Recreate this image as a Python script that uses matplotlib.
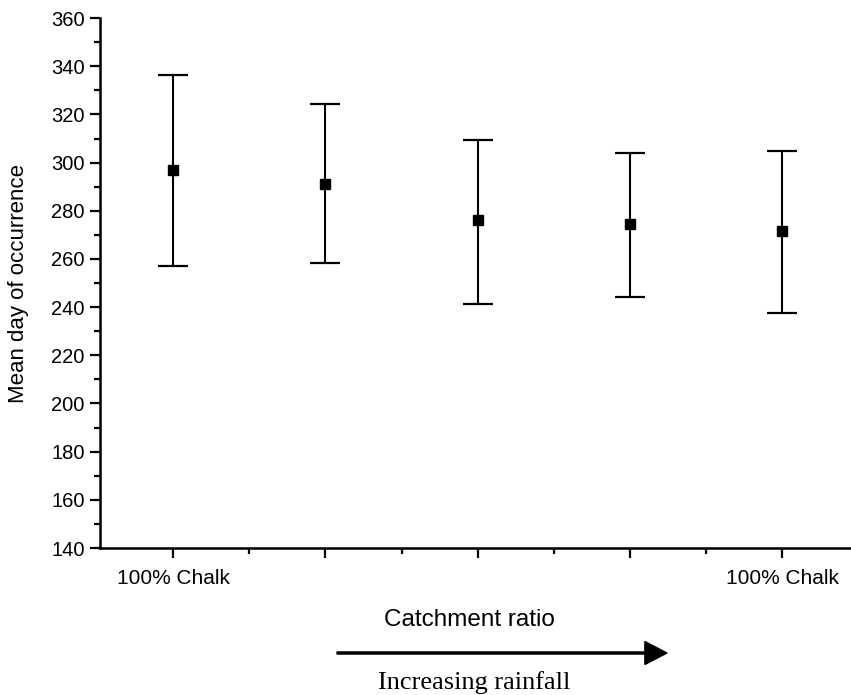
import matplotlib.pyplot as plt
import numpy as np

# mean day of occurrence for each catchment group, with range ends
positions = [1, 2, 3, 4, 5]
means = [297, 291, 276, 274.5, 271.5]
upper = [336.5, 324.5, 309.5, 304, 305]
lower = [257, 258.5, 241.5, 244, 237.5]
tick_labels = ["100% Chalk", "", "", "", "100% Chalk"]

plt.rcParams['font.family'] = ['Liberation Sans', 'DejaVu Sans']

fig = plt.figure(figsize=(8.51, 6.95), dpi=100)
ax = fig.add_axes([0.1175, 0.2115, 0.8825, 0.7625])

means = np.array(means)
yerr = [means - np.array(lower), np.array(upper) - means]
ax.errorbar(positions, means, yerr=yerr, fmt='s', color='black',
            markersize=7.5, elinewidth=1.5, capsize=11, capthick=1.6)

ax.set_xlim(0.52, 5.45)
ax.set_ylim(140, 360)
ax.set_yticks(np.arange(140, 361, 20))
ax.set_yticks(np.arange(150, 360, 20), minor=True)
ax.set_xticks(positions)
ax.set_xticklabels(tick_labels, fontsize=15)
ax.set_xticks([1.5, 2.5, 3.5, 4.5], minor=True)

for side in ['top', 'right']:
    ax.spines[side].set_visible(False)
for side in ['left', 'bottom']:
    ax.spines[side].set_linewidth(1.8)

ax.tick_params(axis='both', which='major', direction='out', length=7, width=1.6)
ax.tick_params(axis='y', which='major', labelsize=14.5, pad=4)
ax.tick_params(axis='both', which='minor', direction='out', length=4.5, width=1.6)
ax.tick_params(axis='x', which='major', pad=8)

ax.set_ylabel("Mean day of occurrence", fontsize=16, va='center')
ax.yaxis.set_label_coords(-0.109, 0.5)

fig.text(469 / 851, 1 - 620 / 695, "Catchment ratio", ha='center', va='center', fontsize=17.5)
fig.text(474 / 851, 1 - 683 / 695, "Increasing rainfall", ha='center', va='center',
         fontsize=19, family=['Liberation Serif', 'DejaVu Serif'])
fig.patches.append(plt.matplotlib.patches.FancyArrow(
    337 / 851, 1 - 653 / 695, (667 - 337) / 851, 0,
    width=0.003, head_width=0.033, head_length=0.026,
    length_includes_head=True, color='black', transform=fig.transFigure))

fig.savefig("out.png", dpi=100)
